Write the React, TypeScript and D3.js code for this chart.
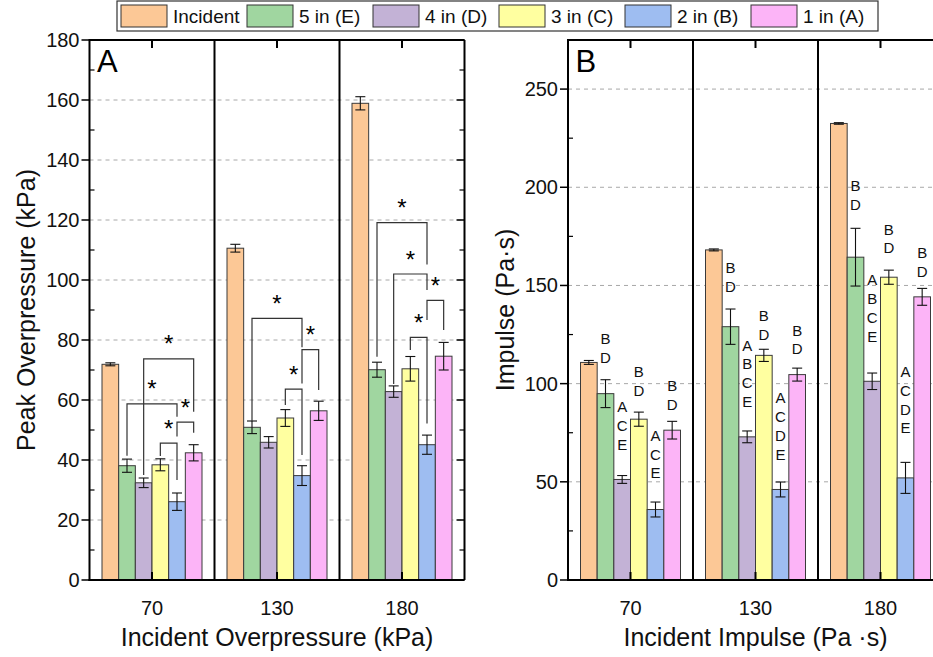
import React from 'react';
import * as d3 from 'd3';

const categories = ['70', '130', '180'];
const seriesNames = ['Incident', '5 in (E)', '4 in (D)', '3 in (C)', '2 in (B)', '1 in (A)'];
const seriesColors = ['#FCC896', '#A0D6A0', '#C3B2D6', '#FFFFA0', '#9EBDF1', '#FCB4F7'];

// Peak overpressure (kPa), one row per series, one value per category
const peakMean = [
  [71.9, 110.6, 158.9],
  [38.1, 50.9, 70.1],
  [32.4, 45.9, 62.8],
  [38.4, 54.0, 70.4],
  [26.1, 34.8, 45.1],
  [42.4, 56.4, 74.6],
];
const peakErr = [
  [0.5, 1.3, 2.2],
  [2.2, 2.1, 2.5],
  [1.6, 1.9, 1.9],
  [2.0, 2.8, 4.1],
  [2.9, 3.3, 3.2],
  [2.7, 3.2, 4.6],
];

// Impulse (Pa·s)
const impulseMean = [
  [110.8, 168.1, 232.5],
  [94.9, 129.0, 164.4],
  [51.2, 72.9, 101.2],
  [81.9, 114.4, 154.2],
  [35.9, 46.1, 52.0],
  [76.3, 104.6, 144.2],
];
const impulseErr = [
  [1.0, 0.5, 0.4],
  [7.1, 9.0, 14.7],
  [2.0, 3.0, 4.2],
  [3.6, 3.1, 3.6],
  [3.8, 3.8, 7.9],
  [4.5, 3.3, 4.3],
];

// significance letters for panel B: [category][series 1..5]
const impulseLetters = [
  ['BD', 'ACE', 'BD', 'ACE', 'BD'],
  ['BD', 'ABCE', 'BD', 'ACDE', 'BD'],
  ['BD', 'ABCE', 'BD', 'ACDE', 'BD'],
];
// value (Pa·s) at which the lowest letter of each stack sits
const impulseLetterBase = [
  [113.5, 69.1, 96.6, 54.5, 89.5],
  [149.5, 91.0, 125.1, 64.1, 117.6],
  [191.2, 124.2, 169.1, 77.4, 157.1],
];

// significance brackets in panel A: [category, fromSeries, toSeries, topValue, leftLegEnd, rightLegEnd]
const peakBrackets = [
  [0, 1, 4, 58.7, 41.4, 54.4],
  [0, 2, 5, 73.7, 35.0, 56.1],
  [0, 3, 4, 45.6, 41.3, 33.3],
  [0, 4, 5, 52.6, 47.8, 49.1],
  [1, 1, 4, 87.2, 52.8, 77.6],
  [1, 4, 5, 76.8, 65.5, 63.3],
  [1, 3, 4, 63.6, 58.3, 41.7],
  [2, 1, 4, 119.1, 74.4, 105.2],
  [2, 2, 4, 102.0, 65.3, 96.7],
  [2, 4, 5, 93.2, 86.7, 83.3],
  [2, 3, 4, 80.9, 76.7, 52.2],
];

const peakDomain = [0, 180];
const impulseDomain = [0, 275];

const FONT = '"Liberation Sans", Arial, Helvetica, sans-serif';
const W = 933;
const H = 657;
const TOP = 40;
const BOTTOM = 580;

type PanelProps = {
  x0: number;
  x1: number;
  domain: number[];
  majorStep: number;
  minorStep: number;
  means: number[][];
  errs: number[][];
  letter: string;
  yTitle: string;
  xTitle: string;
  children?: (x: d3.ScaleBand<string>, inner: d3.ScaleBand<string>, y: d3.ScaleLinear<number, number>) => React.ReactNode;
};

function Panel({ x0, x1, domain, majorStep, minorStep, means, errs, letter, yTitle, xTitle, children }: PanelProps) {
  const x = d3.scaleBand<string>().domain(categories).range([x0, x1]).padding(0);
  const bw = x.bandwidth();
  const inner = d3.scaleBand<string>().domain(seriesNames).range([12.5, bw - 12.5]).padding(0);
  const y = d3.scaleLinear().domain(domain).range([BOTTOM, TOP]);
  const majors = d3.range(domain[0], domain[1] + 0.001, majorStep);
  const minors = d3.range(domain[0], domain[1] + 0.001, minorStep).filter((v) => Math.abs(v % majorStep) > 0.001);
  const grid = majors.filter((v) => v > 0 && y(v) > TOP + 1);
  const cx = (x0 + x1) / 2;

  return (
    <g>
      {/* gridlines */}
      {grid.map((v) => (
        <line key={'g' + v} x1={x0} x2={x1} y1={y(v)} y2={y(v)} stroke="#a8a8a8" strokeWidth={1} strokeDasharray="4,4" />
      ))}
      {/* bars */}
      {categories.map((c, ci) =>
        seriesNames.map((s, si) => {
          const bx = (x(c) as number) + (inner(s) as number);
          const v = means[si][ci];
          return (
            <rect key={c + s} x={bx} y={y(v)} width={inner.bandwidth()} height={BOTTOM - y(v)} fill={seriesColors[si]} stroke="#3a3a3a" strokeWidth={1} />
          );
        })
      )}
      {/* error bars */}
      {categories.map((c, ci) =>
        seriesNames.map((s, si) => {
          const mx = (x(c) as number) + (inner(s) as number) + inner.bandwidth() / 2;
          const v = means[si][ci];
          const e = errs[si][ci];
          return (
            <g key={'e' + c + s} stroke="#111" strokeWidth={1.1}>
              <line x1={mx} x2={mx} y1={y(v + e)} y2={y(v - e)} />
              <line x1={mx - 5} x2={mx + 5} y1={y(v + e)} y2={y(v + e)} />
              <line x1={mx - 5} x2={mx + 5} y1={y(v - e)} y2={y(v - e)} />
            </g>
          );
        })
      )}
      {/* separators */}
      {categories.slice(1).map((c) => (
        <line key={'s' + c} x1={x(c) as number} x2={x(c) as number} y1={TOP} y2={BOTTOM} stroke="#000" strokeWidth={2} />
      ))}
      {/* frame */}
      <line x1={x0} x2={x1} y1={TOP} y2={TOP} stroke="#000" strokeWidth={2} />
      <line x1={x1} x2={x1} y1={TOP} y2={BOTTOM} stroke="#000" strokeWidth={2} />
      <line x1={x0} x2={x0} y1={TOP - 1} y2={BOTTOM + 1} stroke="#000" strokeWidth={2} />
      <line x1={x0 - 1} x2={x1} y1={BOTTOM} y2={BOTTOM} stroke="#000" strokeWidth={2.2} />
      {/* y ticks */}
      {majors.map((v) => (
        <g key={'mt' + v}>
          <line x1={x0 - 8} x2={x0} y1={y(v)} y2={y(v)} stroke="#000" strokeWidth={1.5} />
          <line x1={x1 - 8} x2={x1} y1={y(v)} y2={y(v)} stroke="#000" strokeWidth={1.5} />
          <text x={x0 - 10} y={y(v)} dy="0.35em" textAnchor="end" fontSize={20} fontFamily={FONT} fill="#111">
            {v}
          </text>
        </g>
      ))}
      {minors.map((v) => (
        <g key={'mn' + v}>
          <line x1={x0} x2={x0 + 5} y1={y(v)} y2={y(v)} stroke="#000" strokeWidth={1.2} />
          <line x1={x1 - 5} x2={x1} y1={y(v)} y2={y(v)} stroke="#000" strokeWidth={1.2} />
        </g>
      ))}
      {/* x ticks & labels */}
      {categories.map((c) => {
        const mx = (x(c) as number) + bw / 2;
        return (
          <g key={'xt' + c}>
            <line x1={mx} x2={mx} y1={BOTTOM} y2={BOTTOM - 8} stroke="#000" strokeWidth={2} />
            <line x1={mx} x2={mx} y1={TOP} y2={TOP + 8} stroke="#000" strokeWidth={2} />
            <text x={mx} y={615} textAnchor="middle" fontSize={20} fontFamily={FONT} fill="#111">
              {c}
            </text>
          </g>
        );
      })}
      {/* titles */}
      <text x={cx} y={646} textAnchor="middle" fontSize={25} fontFamily={FONT} fill="#111">
        {xTitle}
      </text>
      <text transform={`translate(${x0 - 63},${(TOP + BOTTOM) / 2}) rotate(-90)`} textAnchor="middle" dy="0.35em" fontSize={25} fontFamily={FONT} fill="#111">
        {yTitle}
      </text>
      <text x={x0 + 7.5} y={72} fontSize={31} fontFamily={FONT} fill="#000">
        {letter}
      </text>
      {children && children(x, inner, y)}
    </g>
  );
}

export default function App() {
  const panelA = { x0: 89.5, x1: 464.5 };
  const panelB = { x0: 568, x1: 943 };

  const legendX = 117;
  const stride = 126;

  return (
    <svg width={W} height={H} style={{ position: 'absolute', left: 0, top: 0, background: '#fff' }} fontFamily={FONT}>
      <rect x={0} y={0} width={W} height={H} fill="#fff" />
      <Panel
        x0={panelA.x0}
        x1={panelA.x1}
        domain={peakDomain}
        majorStep={20}
        minorStep={10}
        means={peakMean}
        errs={peakErr}
        letter="A"
        yTitle="Peak Overpressure (kPa)"
        xTitle="Incident Overpressure (kPa)"
      >
        {(x, inner, y) =>
          peakBrackets.map((b, i) => {
            const [ci, fs, ts, top, lEnd, rEnd] = b;
            const c = categories[ci];
            const xl = (x(c) as number) + (inner(seriesNames[fs]) as number) + inner.bandwidth() / 2;
            const xr = (x(c) as number) + (inner(seriesNames[ts]) as number) + inner.bandwidth() / 2;
            const yt = y(top);
            return (
              <g key={'br' + i}>
                <path d={`M${xl},${y(lEnd)}V${yt}H${xr}V${y(rEnd)}`} fill="none" stroke="#333" strokeWidth={1.2} />
                <text x={(xl + xr) / 2} y={yt - 6.5} textAnchor="middle" fontSize={24} fontFamily={FONT} fill="#000">
                  *
                </text>
              </g>
            );
          })
        }
      </Panel>
      <Panel
        x0={panelB.x0}
        x1={panelB.x1}
        domain={impulseDomain}
        majorStep={50}
        minorStep={25}
        means={impulseMean}
        errs={impulseErr}
        letter="B"
        yTitle="Impulse (Pa·s)"
        xTitle="Incident Impulse (Pa ·s)"
      >
        {(x, inner, y) =>
          categories.map((c, ci) =>
            seriesNames.slice(1).map((s, k) => {
              const letters = impulseLetters[ci][k].split('');
              const mx = (x(c) as number) + (inner(s) as number) + inner.bandwidth() / 2;
              const base = y(impulseLetterBase[ci][k]);
              return (
                <g key={'lt' + c + s}>
                  {letters.map((L, j) => (
                    <text
                      key={j}
                      x={mx}
                      y={base - (letters.length - 1 - j) * 18.7}
                      dy="0.36em"
                      textAnchor="middle"
                      fontSize={15}
                      fontFamily={FONT}
                      fill="#111"
                    >
                      {L}
                    </text>
                  ))}
                </g>
              );
            })
          )
        }
      </Panel>
      {/* legend */}
      <g>
        <rect x={legendX} y={1} width={761} height={30} fill="#fff" stroke="#333" strokeWidth={1.2} />
        {seriesNames.map((s, i) => {
          const sx = legendX + 4 + i * stride;
          return (
            <g key={'lg' + s}>
              <rect x={sx} y={5} width={46} height={22} fill={seriesColors[i]} stroke="#333" strokeWidth={1} />
              <text x={sx + 52} y={16} dy="0.35em" fontSize={19} fontFamily={FONT} fill="#111">
                {s}
              </text>
            </g>
          );
        })}
      </g>
    </svg>
  );
}
